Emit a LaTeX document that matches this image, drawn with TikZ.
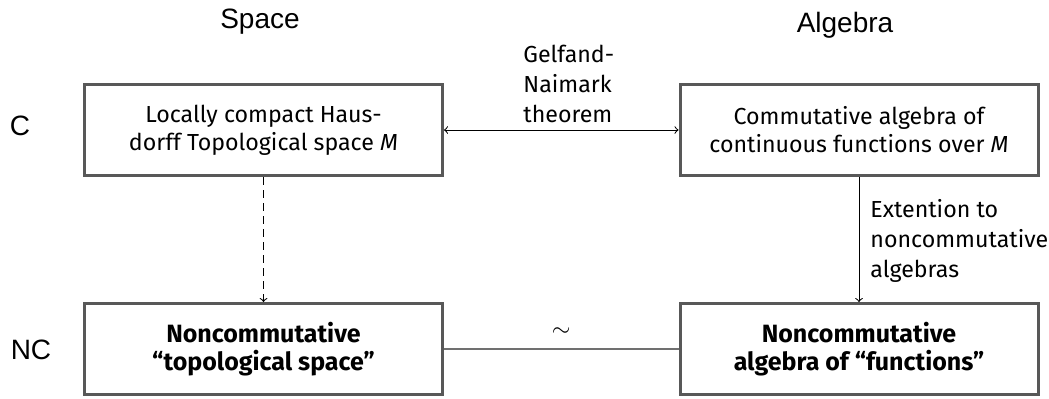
\documentclass[tikz,border=0pt]{standalone}
\usepackage{fontspec}
\setmainfont{Fira Sans}
\newfontfamily\hdrfont{Liberation Sans}
\definecolor{boxgray}{HTML}{585858}
\definecolor{linegray}{HTML}{707070}
\begin{document}
\begin{tikzpicture}[x=0.5pt,y=-0.5pt,
  box/.style={draw=boxgray, line width=1.5pt, minimum width=179pt, minimum height=45.5pt,
    align=center, inner sep=0pt, font=\fontsize{11.6}{14}\selectfont},
  bbox/.style={box, font=\bfseries\fontsize{12.5}{14}\selectfont},
  hdr/.style={font=\hdrfont\fontsize{14}{16}\selectfont, inner sep=0pt},
  lbl/.style={font=\fontsize{11.6}{15}\selectfont, align=left, inner sep=0pt},
  conn/.style={line width=0.5pt}]
\useasboundingbox (0,0) rectangle (1049,398);
\node[box] (A) at (263.5,130) {Locally compact Haus-\\dorff Topological space {\itshape M}};
\node[box] (B) at (859,130) {Commutative algebra of\\continuous functions over {\itshape M}};
\node[bbox] (C) at (263.5,349) {Noncommutative\\``topological space''};
\node[bbox] (D) at (859,349) {Noncommutative\\algebra of ``functions''};
\node[hdr, anchor=base] (hs) at (260,28) {Space};
\node[hdr, anchor=base] (ha) at (845,32) {Algebra};
\node[hdr] (hc) at (20,126) {C};
\node[hdr] (hnc) at (31,350) {NC};
\draw[conn,<->] (A) -- (B);
\node[lbl, anchor=base west] (gn) at (523,122) {Gelfand-\\Naimark\\theorem};
\draw[conn,dashed,dash pattern=on 4pt off 2.5pt,->] (A) -- (C);
\draw[conn,->] (B) -- (D);
\node[lbl, anchor=base west] (ext) at (870,277) {Extention to\\noncommutative\\algebras};
\draw[draw=linegray, line width=1pt] (C) -- node[midway, yshift=8.5pt, inner sep=0pt, font=\fontsize{12}{14}\selectfont] (sim) {$\sim$} (D);
\end{tikzpicture}
\end{document}
